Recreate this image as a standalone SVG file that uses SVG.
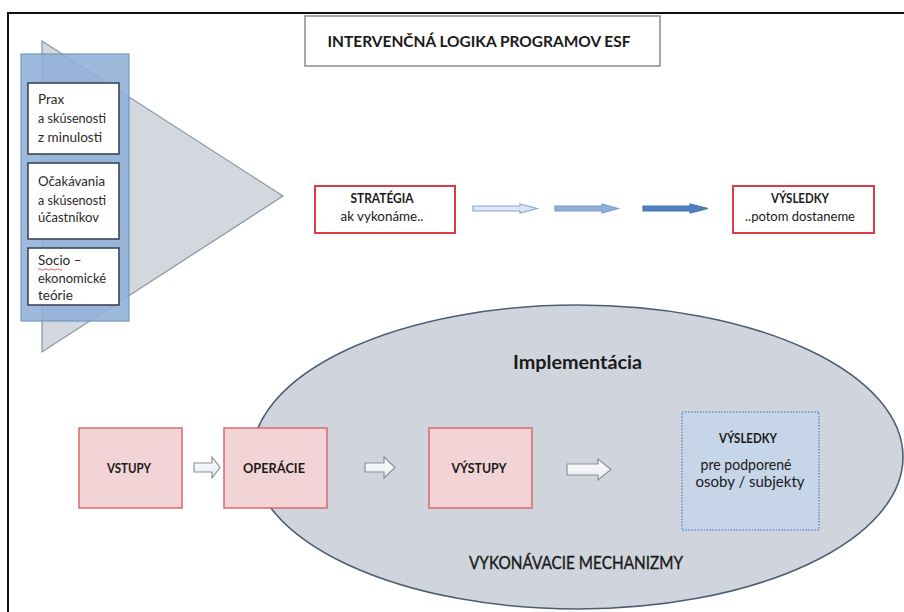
<svg xmlns="http://www.w3.org/2000/svg" width="904" height="612" viewBox="0 0 904 612">
<style>
text{font-family:Lato,"Open Sans","Liberation Sans",sans-serif;fill:#1a1a1a}
.b{font-weight:bold}
.c{text-anchor:middle}
.src{fill:#ffffff;stroke:#3b4656;stroke-width:1.6}
.src-t{font-size:13.5px;fill:#2a2a2a}
.red{fill:#ffffff;stroke:#dd3c47;stroke-width:2}
.pink{fill:#f3d4d6;stroke:#d86b70;stroke-width:1.5}
</style>
<defs>
<linearGradient id="hg" x1="0" y1="0" x2="0" y2="1">
<stop offset="0" stop-color="#ffffff"/>
<stop offset="1" stop-color="#e6e9ee"/>
</linearGradient>
</defs>
<rect width="904" height="612" fill="#ffffff"/>
<path d="M8 612 V13 H904" fill="none" stroke="#111111" stroke-width="2"/>

<g id="title">
<rect x="305" y="16" width="355" height="50" fill="#ffffff" stroke="#8c8c8c" stroke-width="1.5"/>
<text class="b c" x="479" y="47" font-size="16" textLength="303" lengthAdjust="spacingAndGlyphs">INTERVENČNÁ LOGIKA PROGRAMOV ESF</text>
</g>

<g id="sources">
<polygon points="42,41 283,196 42,352" fill="#d3d7de" stroke="#8a94a2" stroke-width="1.2"/>
<rect x="21" y="54" width="108" height="267" fill="#8fb0d8" fill-opacity="0.88" stroke="#7897c2" stroke-width="1.2"/>
<g id="src1">
<rect class="src" x="28" y="83" width="91" height="71"/>
<text class="src-t" x="38" y="104">Prax</text>
<text class="src-t" x="38" y="123" textLength="68" lengthAdjust="spacingAndGlyphs">a skúsenosti</text>
<text class="src-t" x="38" y="142" textLength="64" lengthAdjust="spacingAndGlyphs">z minulosti</text>
</g>
<g id="src2">
<rect class="src" x="28" y="163" width="91" height="76"/>
<text class="src-t" x="38" y="186" textLength="67" lengthAdjust="spacingAndGlyphs">Očakávania</text>
<text class="src-t" x="38" y="205" textLength="68" lengthAdjust="spacingAndGlyphs">a skúsenosti</text>
<text class="src-t" x="38" y="222" textLength="61" lengthAdjust="spacingAndGlyphs">účastníkov</text>
</g>
<g id="src3">
<rect class="src" x="28" y="248" width="91" height="57"/>
<text class="src-t" x="38" y="265">Socio –</text>
<path d="M38 269.5 q1.5 -1.5 3 0 t3 0 t3 0 t3 0 t3 0 t3 0 t3 0 t3 0" fill="none" stroke="#e0454d" stroke-width="0.9"/>
<text class="src-t" x="38" y="283" textLength="68" lengthAdjust="spacingAndGlyphs">ekonomické</text>
<text class="src-t" x="38" y="300">teórie</text>
</g>
</g>

<g id="strategia">
<rect class="red" x="315" y="186" width="140" height="47"/>
<text class="b c" x="382" y="203" font-size="13.5" textLength="63" lengthAdjust="spacingAndGlyphs">STRATÉGIA</text>
<text class="c" x="382" y="221" font-size="14" textLength="83" lengthAdjust="spacingAndGlyphs">ak vykonáme..</text>
</g>

<g id="vysledky-top">
<rect class="red" x="733" y="186" width="141" height="47"/>
<text class="b c" x="800" y="203" font-size="13.5" textLength="58" lengthAdjust="spacingAndGlyphs">VÝSLEDKY</text>
<text class="c" x="800" y="221" font-size="14" textLength="110" lengthAdjust="spacingAndGlyphs">..potom dostaneme</text>
</g>

<g id="implementacia">
<ellipse cx="577.5" cy="457" rx="325.5" ry="152" fill="#d0d5dd" stroke="#4d5d73" stroke-width="1.6"/>
<text class="b c" x="577.5" y="369" font-size="19.5" textLength="129" lengthAdjust="spacingAndGlyphs">Implementácia</text>
<text x="469" y="569" font-size="17.5" stroke="#1a1a1a" stroke-width="0.35" textLength="214" lengthAdjust="spacingAndGlyphs">VYKONÁVACIE MECHANIZMY</text>
</g>

<g id="vstupy">
<rect class="pink" x="79" y="428" width="103" height="80"/>
<text class="b c" x="129" y="473" font-size="13" textLength="44" lengthAdjust="spacingAndGlyphs">VSTUPY</text>
</g>
<g id="operacie">
<rect class="pink" x="224" y="428" width="103" height="80"/>
<text class="b c" x="274" y="473" font-size="13" textLength="62" lengthAdjust="spacingAndGlyphs">OPERÁCIE</text>
</g>
<g id="vystupy">
<rect class="pink" x="429" y="428" width="103" height="80"/>
<text class="b c" x="479" y="473" font-size="13" textLength="55" lengthAdjust="spacingAndGlyphs">VÝSTUPY</text>
</g>
<g id="vysledky-bottom">
<rect x="682" y="412" width="137" height="118" fill="#c6d5e8" stroke="#6f8fc2" stroke-width="1.5" stroke-dasharray="1.5 1.5"/>
<text class="b c" x="748" y="443" font-size="13" textLength="58" lengthAdjust="spacingAndGlyphs">VÝSLEDKY</text>
<text class="c" x="746" y="470" font-size="15" textLength="91" lengthAdjust="spacingAndGlyphs">pre podporené</text>
<text class="c" x="750" y="487" font-size="15" textLength="109" lengthAdjust="spacingAndGlyphs">osoby / subjekty</text>
</g>

<g id="connectors">
<path d="M473 206 H520 V204 L537 208.5 L520 213 V211 H473 Z" fill="#dde6f2" stroke="#8aa5cf" stroke-width="1.2"/>
<path d="M555 206 H602 V204 L618 208.5 L602 213 V211 H555 Z" fill="#91afd8" stroke="#7a9acb" stroke-width="1.2"/>
<path d="M643 206 H690 V204 L708 208.5 L690 213 V211 H643 Z" fill="#4f7fbf" stroke="#4673b0" stroke-width="1.2"/>
<path d="M194 463 H212 V457 L220 467.5 L212 478 V472 H194 Z" fill="url(#hg)" stroke="#8a929c" stroke-width="1.2"/>
<path d="M365 463 H384 V457 L395 467.5 L384 478 V472 H365 Z" fill="url(#hg)" stroke="#8a929c" stroke-width="1.2"/>
<path d="M567 464 H598 V459 L611 469.5 L598 480 V475 H567 Z" fill="url(#hg)" stroke="#8a929c" stroke-width="1.2"/>
</g>
</svg>
